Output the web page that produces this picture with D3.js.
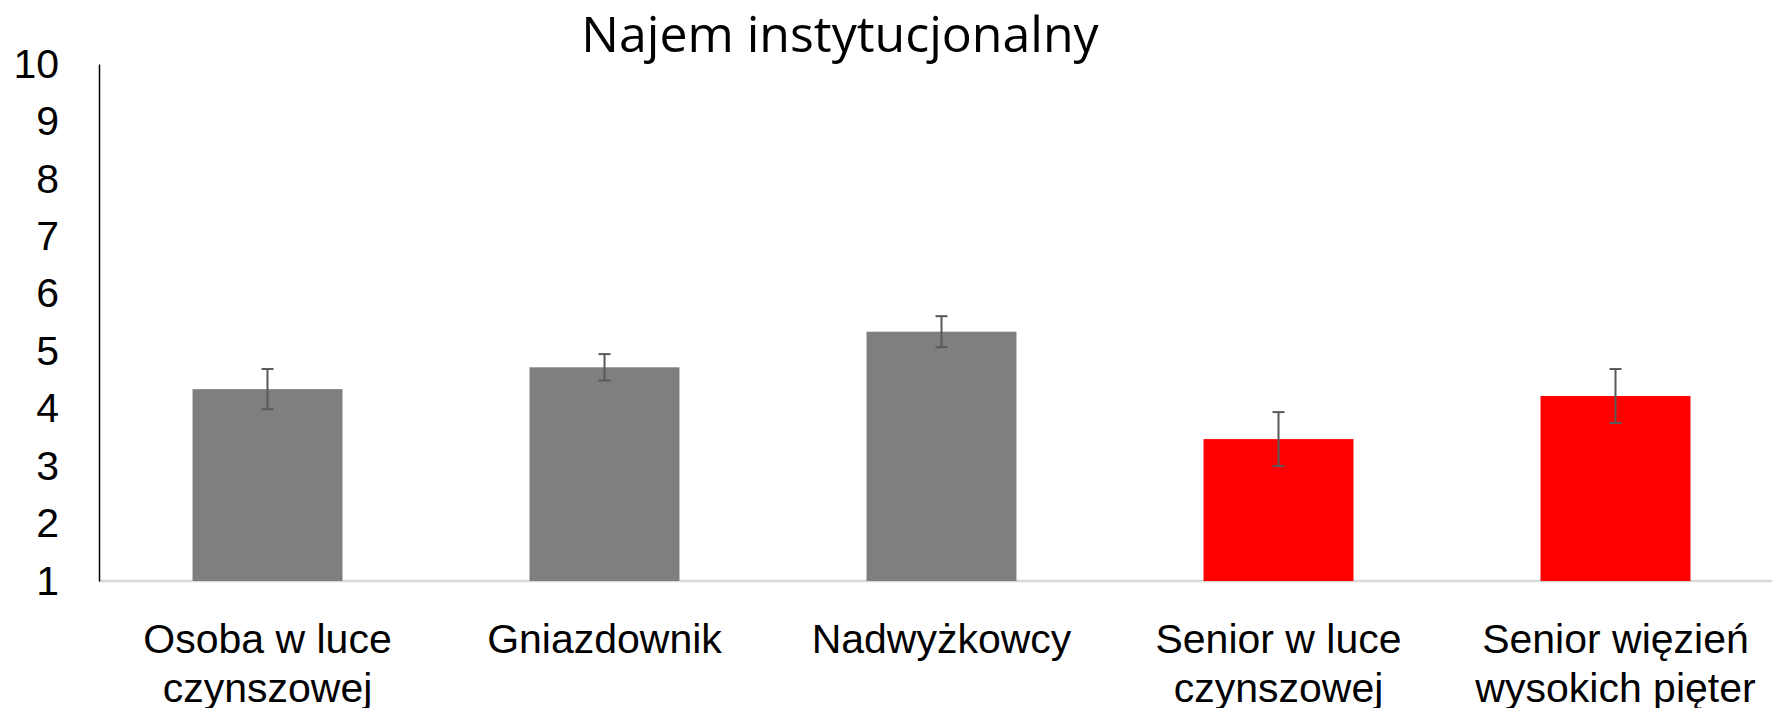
<!DOCTYPE html>
<html>
<head>
<meta charset="utf-8">
<script src="https://cdn.jsdelivr.net/npm/d3@7"></script>
<style>
  html, body { margin: 0; padding: 0; background: #fff; overflow: hidden; }
  svg text { font-family: "Liberation Sans", Arial, sans-serif; fill: #000; }
</style>
</head>
<body>
<svg id="chart" width="1772" height="708"></svg>
<script>
// dane
const categories = [
  ['Osoba w luce', 'czynszowej'],
  ['Gniazdownik'],
  ['Nadwyżkowcy'],
  ['Senior w luce', 'czynszowej'],
  ['Senior więzień', 'wysokich pięter']
];
const means = [4.34, 4.72, 5.34, 3.47, 4.22];
const errors = [0.35, 0.23, 0.27, 0.47, 0.47];
const barColors = ['#7f7f7f', '#7f7f7f', '#7f7f7f', '#ff0000', '#ff0000'];
const yTicks = [1, 2, 3, 4, 5, 6, 7, 8, 9, 10];
const title = 'Najem instytucjonalny';

const svg = d3.select('#chart');
const plotLeft = 99, plotRight = 1784, plotTop = 64, plotBottom = 581;

const x = d3.scaleBand()
  .domain(d3.range(categories.length))
  .range([plotLeft, plotRight])
  .paddingInner(0.555)
  .paddingOuter(0.2775);

const y = d3.scaleLinear().domain([1, 10]).range([plotBottom, plotTop]);

// linia bazowa
svg.append('line')
  .attr('x1', plotLeft).attr('x2', 1772)
  .attr('y1', y(1)).attr('y2', y(1))
  .attr('stroke', '#d9d9d9').attr('stroke-width', 2.5);

// słupki
svg.selectAll('rect.bar')
  .data(means)
  .join('rect')
  .attr('class', 'bar')
  .attr('x', (d, i) => x(i))
  .attr('width', x.bandwidth())
  .attr('y', d => y(d))
  .attr('height', d => y(1) - y(d))
  .attr('fill', (d, i) => barColors[i]);

// słupki błędów
const eb = svg.selectAll('g.err')
  .data(means)
  .join('g')
  .attr('class', 'err')
  .attr('stroke', '#595959')
  .attr('stroke-width', 2);

eb.append('line')
  .attr('x1', (d, i) => x(i) + x.bandwidth() / 2)
  .attr('x2', (d, i) => x(i) + x.bandwidth() / 2)
  .attr('y1', (d, i) => y(d + errors[i]))
  .attr('y2', (d, i) => y(d - errors[i]));

[1, -1].forEach(s => {
  eb.append('line')
    .attr('x1', (d, i) => x(i) + x.bandwidth() / 2 - 6)
    .attr('x2', (d, i) => x(i) + x.bandwidth() / 2 + 6)
    .attr('y1', (d, i) => y(d + s * errors[i]))
    .attr('y2', (d, i) => y(d + s * errors[i]));
});

// oś Y
const yAxis = d3.axisLeft(y).tickValues(yTicks).tickSize(0).tickPadding(40);
const ga = svg.append('g').attr('transform', `translate(${plotLeft},0)`).call(yAxis);
ga.select('.domain').attr('stroke', '#000').attr('stroke-width', 1.5);
ga.selectAll('text').style('font-size', '41px').attr('fill', '#000');

// etykiety kategorii
const cl = svg.selectAll('text.cat')
  .data(categories)
  .join('text')
  .attr('class', 'cat')
  .attr('text-anchor', 'middle')
  .style('font-size', '41px');

cl.selectAll('tspan')
  .data((d, i) => d.map(t => ({ t, i })))
  .join('tspan')
  .attr('x', d => x(d.i) + x.bandwidth() / 2)
  .attr('y', (d, j) => 653 + j * 49)
  .text(d => d.t);

// tytuł
svg.append('text')
  .attr('x', 840)
  .attr('y', 52)
  .attr('text-anchor', 'middle')
  .style('font-family', '"Open Sans", "Noto Sans", sans-serif')
  .style('font-size', '50px')
  .text(title);
</script>
</body>
</html>
